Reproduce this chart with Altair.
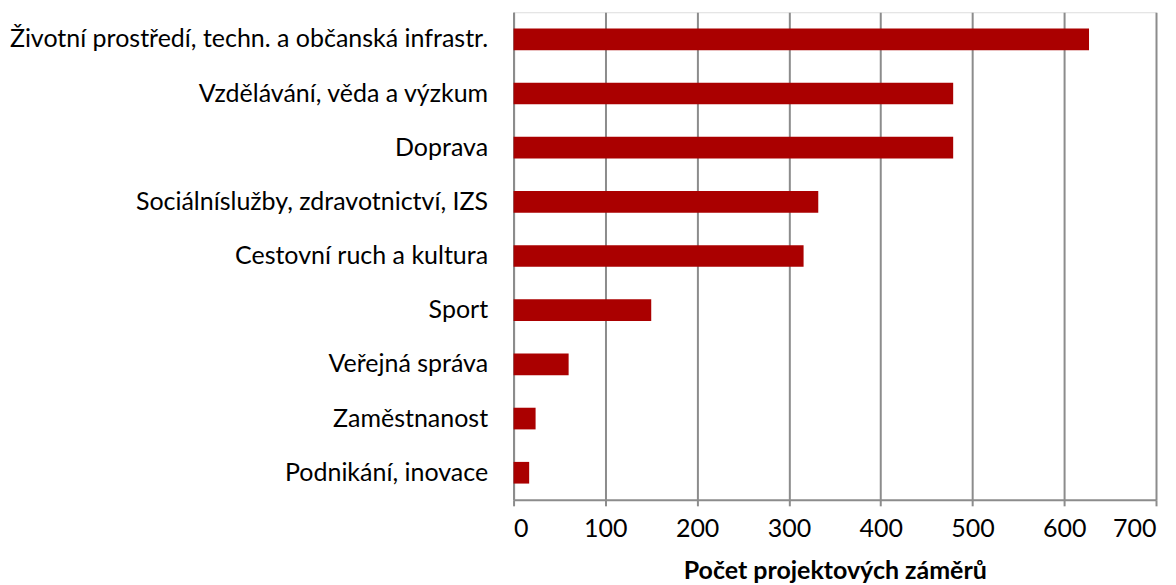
import altair as alt
import pandas as pd

categories = [
    "Životní prostředí, techn. a občanská infrastr.",
    "Vzdělávání, věda a výzkum",
    "Doprava",
    "Sociálníslužby, zdravotnictví, IZS",
    "Cestovní ruch a kultura",
    "Sport",
    "Veřejná správa",
    "Zaměstnanost",
    "Podnikání, inovace",
]
values = [627, 479, 479, 332, 316, 150, 60, 24, 17]
x_ticks = [0, 100, 200, 300, 400, 500, 600, 700]

df = pd.DataFrame({"kategorie": categories, "pocet": values})

FONT = "Lato"
FS = 25

chart = (
    alt.Chart(df)
    .mark_bar(color="#AA0000")
    .encode(
        y=alt.Y(
            "kategorie:N",
            sort=categories,
            title=None,
            scale=alt.Scale(paddingInner=0.6, paddingOuter=0.3),
            axis=alt.Axis(
                ticks=False,
                domainColor="#8C8C8C",
                domainWidth=2,
                labelFontSize=FS,
                labelFont=FONT,
                labelColor="#000000",
                labelPadding=26,
                labelLimit=700,
            ),
        ),
        x=alt.X(
            "pocet:Q",
            title="Počet projektových záměrů",
            scale=alt.Scale(domain=[0, 700], nice=False),
            axis=alt.Axis(
                values=x_ticks,
                grid=True,
                gridColor="#8C8C8C",
                gridWidth=2,
                domainColor="#8C8C8C",
                domainWidth=2,
                tickColor="#8C8C8C",
                tickWidth=2,
                tickSize=6,
                labelFontSize=FS,
                labelFont=FONT,
                labelColor="#000000",
                labelPadding=11,
                titleFontSize=FS,
                titleFont=FONT,
                titleFontWeight="bold",
                titleColor="#000000",
                titlePadding=17,
            ),
        ),
    )
    .properties(
        width=643,
        height=488,
        autosize=alt.AutoSizeParams(type="none"),
        padding={"left": 506, "top": 4, "right": 12, "bottom": 84},
    )
    .configure_view(stroke=None)
    .configure(background="#FFFFFF")
)

chart.save("out.html", embed_options={"renderer": "svg", "actions": False})
